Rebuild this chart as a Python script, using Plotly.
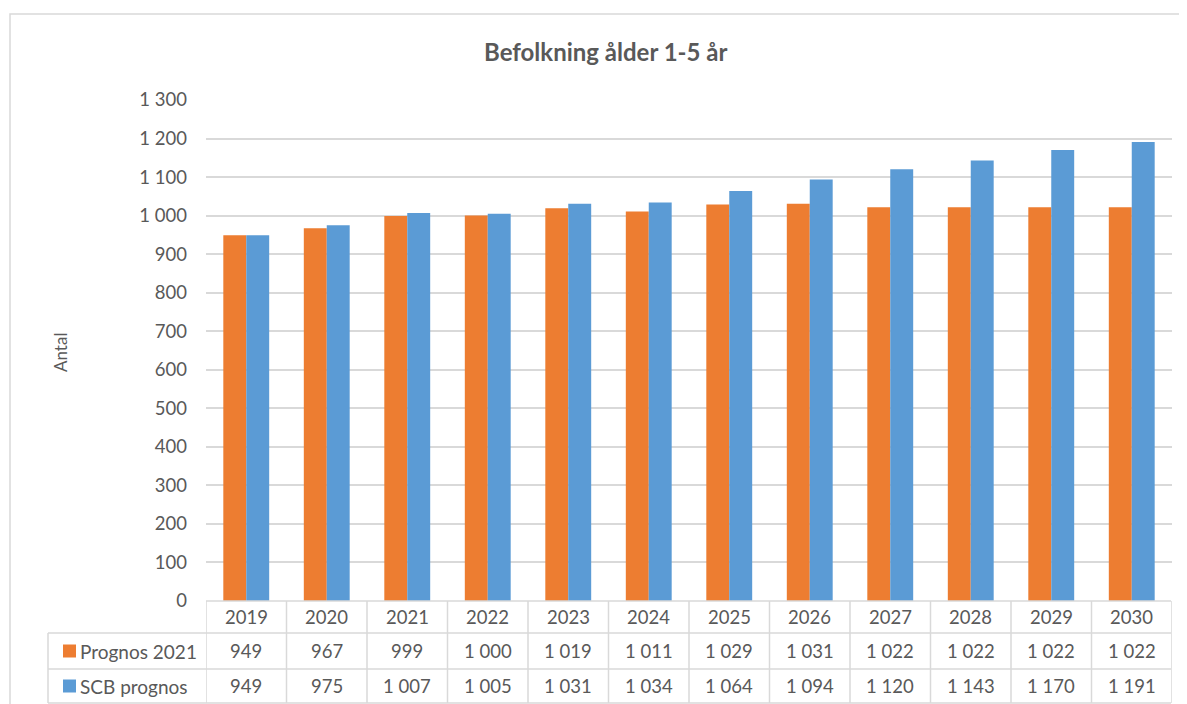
import plotly.graph_objects as go

# ---- data ----
years = ["2019", "2020", "2021", "2022", "2023", "2024", "2025", "2026", "2027", "2028", "2029", "2030"]
prognos_2021 = [949, 967, 999, 1000, 1019, 1011, 1029, 1031, 1022, 1022, 1022, 1022]
scb_prognos = [949, 975, 1007, 1005, 1031, 1034, 1064, 1094, 1120, 1143, 1170, 1191]
series_names = ["Prognos 2021", "SCB prognos"]
title_text = "Befolkning ålder 1-5 år"
y_title = "Antal"

# ---- style ----
OFF = 8                                   # browser body margin
W, H = 1187 - OFF, 704 - OFF
L, R, T, B = 206, 1172, 100, 601          # plot area in reference pixels
colors = ["#ED7D31", "#5B9BD5"]
text_col = "#595959"
grid_col = "#D9D9D9"
FONT = "Lato"

def px2x(px):
    return (px - L) / (R - L)

def py2y(py):
    return (B - py) / (B - T)

def fmt(v):
    return f"{v:,}".replace(",", " ")

fig = go.Figure()
for name, vals, c in zip(series_names, [prognos_2021, scb_prognos], colors):
    fig.add_trace(go.Bar(x=years, y=vals, name=name, marker=dict(color=c, line=dict(width=0))))

shapes = []
annotations = []

# chart outer border
shapes.append(dict(type="rect", xref="paper", yref="paper",
                   x0=px2x(10), x1=px2x(1200), y0=py2y(720), y1=py2y(14),
                   line=dict(color=grid_col, width=1.5), layer="below"))

# data table
row_lines = [601, 633, 669, 703]
shapes.append(dict(type="line", xref="paper", yref="paper", x0=px2x(L), x1=px2x(1171),
                   y0=py2y(row_lines[0]), y1=py2y(row_lines[0]), line=dict(color=grid_col, width=1.5)))
for ry in row_lines[1:]:
    shapes.append(dict(type="line", xref="paper", yref="paper", x0=px2x(48), x1=px2x(1171),
                       y0=py2y(ry), y1=py2y(ry), line=dict(color=grid_col, width=1.5)))
for i in range(len(years) + 1):
    shapes.append(dict(type="line", xref="x", yref="paper", x0=i - 0.5, x1=i - 0.5,
                       y0=py2y(row_lines[0]), y1=py2y(row_lines[-1]), line=dict(color=grid_col, width=1.5)))
shapes.append(dict(type="line", xref="paper", yref="paper", x0=px2x(48), x1=px2x(48),
                   y0=py2y(row_lines[1]), y1=py2y(row_lines[-1]), line=dict(color=grid_col, width=1.5)))

row_centers = [(row_lines[k] + row_lines[k + 1]) / 2 for k in range(3)]
cell_font = dict(size=18.5, color=text_col, family=FONT)
for i, yr in enumerate(years):
    annotations.append(dict(x=i, y=py2y(row_centers[0]), xref="x", yref="paper", text=yr,
                            xanchor="center", yanchor="middle", showarrow=False, font=cell_font))
    for k, vals in enumerate([prognos_2021, scb_prognos]):
        annotations.append(dict(x=i, y=py2y(row_centers[k + 1]), xref="x", yref="paper", text=fmt(vals[i]),
                                xanchor="center", yanchor="middle", showarrow=False, font=cell_font))

# legend keys in table
for k, (name, c) in enumerate(zip(series_names, colors)):
    cy = row_centers[k + 1]
    shapes.append(dict(type="rect", xref="paper", yref="paper", x0=px2x(63), x1=px2x(76),
                       y0=py2y(cy + 6.5), y1=py2y(cy - 6.5), fillcolor=c, line=dict(width=0)))
    annotations.append(dict(x=px2x(78), y=py2y(cy), xref="paper", yref="paper", text=name,
                            xanchor="left", yanchor="middle", showarrow=False,
                            font=dict(size=19, color=text_col, family=FONT)))

# title and y-axis title
annotations.append(dict(x=px2x(605), y=py2y(52), xref="paper", yref="paper", text="<b>" + title_text + "</b>",
                        xanchor="center", yanchor="middle", showarrow=False,
                        font=dict(size=24, color=text_col, family=FONT)))
annotations.append(dict(x=px2x(60), y=py2y(353), xref="paper", yref="paper", text=y_title, textangle=-90,
                        xanchor="center", yanchor="middle", showarrow=False,
                        font=dict(size=17, color=text_col, family=FONT)))

fig.update_layout(
    width=W, height=H,
    margin=dict(l=L - OFF, r=W - (R - OFF), t=T - OFF, b=H - (B - OFF), autoexpand=False),
    paper_bgcolor="white", plot_bgcolor="white",
    barmode="group", bargap=0.43, bargroupgap=0,
    showlegend=False,
    separators=", ",
    shapes=shapes, annotations=annotations,
    xaxis=dict(type="category", range=[-0.5, len(years) - 0.5], showticklabels=False,
               showgrid=False, showline=False, zeroline=False, fixedrange=True),
    yaxis=dict(range=[0, 1300], dtick=100, tickformat=",d", showgrid=True, gridcolor=grid_col, gridwidth=1.5,
               zeroline=False, showline=False, ticks="", ticklabelstandoff=18,
               tickfont=dict(size=18.5, color=text_col, family=FONT)),
)

fig.write_html("out.html")
